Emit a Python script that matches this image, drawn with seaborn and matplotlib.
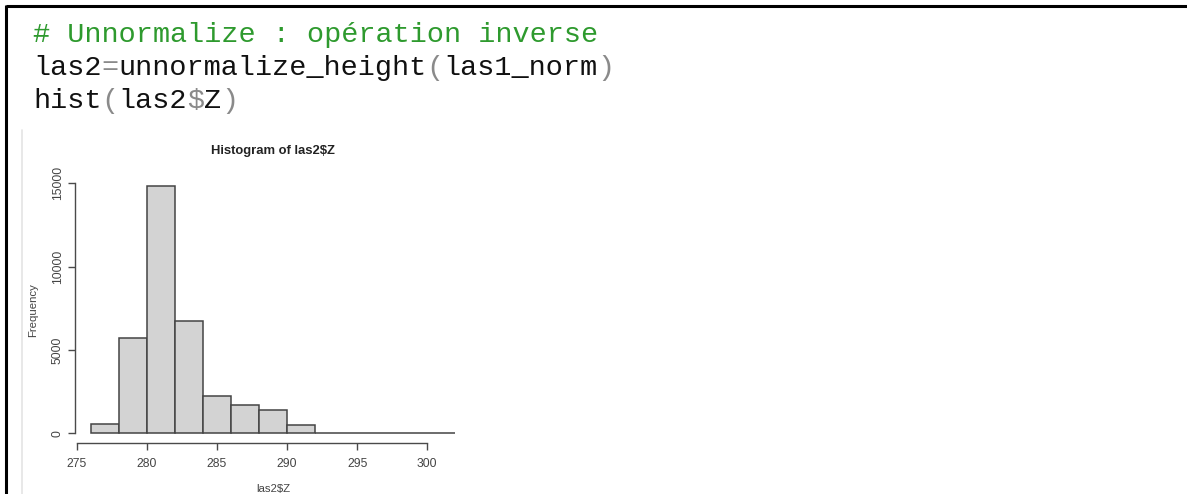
import numpy as np
import pandas as pd
import matplotlib
matplotlib.use("Agg")
import matplotlib.pyplot as plt
import seaborn as sns

# Histogram of las2$Z: bin edges (2 m wide) and counts per bin
bin_edges = [276, 278, 280, 282, 284, 286, 288, 290, 292, 294, 296, 298, 300, 302]
bin_counts = [560, 5700, 14840, 6760, 2240, 1680, 1400, 500, 30, 20, 12, 6, 1]
x_ticks = [275, 280, 285, 290, 295, 300]
y_ticks = [0, 5000, 10000, 15000]

title_text = "Histogram of las2$Z"
x_label = "las2$Z"
y_label = "Frequency"

# Code cell above the plot: each line is a list of (text, colour) runs
code_lines = [
    [("# Unnormalize : opération inverse", "#2e9a2e")],
    [("las2", "#111111"), ("=", "#8a8a8a"), ("unnormalize_height", "#111111"),
     ("(", "#8a8a8a"), ("las1_norm", "#111111"), (")", "#8a8a8a")],
    [("hist", "#111111"), ("(", "#8a8a8a"), ("las2", "#111111"), ("$", "#8a8a8a"),
     ("Z", "#111111"), (")", "#8a8a8a")],
]

sns.set_style("white")
plt.rcParams["font.family"] = ["Liberation Sans", "DejaVu Sans"]

W, H = 1187, 494
fig = plt.figure(figsize=(W / 100, H / 100), dpi=100)
fig.patch.set_facecolor("white")

# Full-figure overlay in pixel coordinates for the frame and the code text
ov = fig.add_axes([0, 0, 1, 1])
ov.set_xlim(0, W)
ov.set_ylim(H, 0)
ov.set_axis_off()
ov.plot([6, W], [6, 6], color="black", lw=2.2, solid_capstyle="butt")
ov.plot([6, 6], [5, H], color="black", lw=2.2, solid_capstyle="butt")
ov.plot([21.5, 21.5], [130, H], color="#e4e4e4", lw=1.2)

char_w = 17.1
baselines = [42, 75, 108]
for runs, yb in zip(code_lines, baselines):
    col = 0
    for txt, colour in runs:
        ov.text(33 + col * char_w, yb, txt, color=colour, fontsize=20.5,
                family=["Liberation Mono", "DejaVu Sans Mono"], va="baseline", ha="left")
        col += len(txt)

# Histogram axes, placed so that data map onto the plot region
xlim = (274.96, 303.04)
ylim = (-594, 15434)
left_px, right_px = 76.14, 469.9
top_px, bottom_px = 176.1, 443.2
ax = fig.add_axes([left_px / W, 1 - bottom_px / H,
                   (right_px - left_px) / W, (bottom_px - top_px) / H])
ax.patch.set_alpha(0)

centers = [(a + b) / 2 for a, b in zip(bin_edges[:-1], bin_edges[1:])]
df = pd.DataFrame({"z": centers, "n": bin_counts})
sns.histplot(data=df, x="z", weights="n", bins=bin_edges, ax=ax,
             color="#d3d3d3", edgecolor="#444444", linewidth=1.1, alpha=1.0)

ax.set_xlim(*xlim)
ax.set_ylim(*ylim)
for s in ["top", "right"]:
    ax.spines[s].set_visible(False)
for s in ["bottom", "left"]:
    ax.spines[s].set_color("#4a4a4a")
    ax.spines[s].set_linewidth(1.0)
ax.spines["bottom"].set_bounds(x_ticks[0], x_ticks[-1])
ax.spines["left"].set_bounds(y_ticks[0], y_ticks[-1])
ax.spines["left"].set_position(("outward", 1))

ax.set_xticks(x_ticks)
ax.set_yticks(y_ticks)
ax.set_yticklabels([str(v) for v in y_ticks], rotation=90, va="center")
ax.tick_params(axis="both", direction="out", length=5, width=1.0,
               color="#4a4a4a", labelcolor="#444444", labelsize=8.7,
               bottom=True, left=True)
ax.tick_params(axis="x", pad=6)
ax.tick_params(axis="y", pad=3)

ax.set_title(title_text, fontsize=9.4, fontweight="bold", color="#222222", pad=16)
ax.set_xlabel(x_label, fontsize=8.2, color="#444444", labelpad=10)
ax.set_ylabel(y_label, fontsize=8.2, color="#444444", labelpad=10)

fig.savefig("out.png", dpi=100, facecolor="white")
